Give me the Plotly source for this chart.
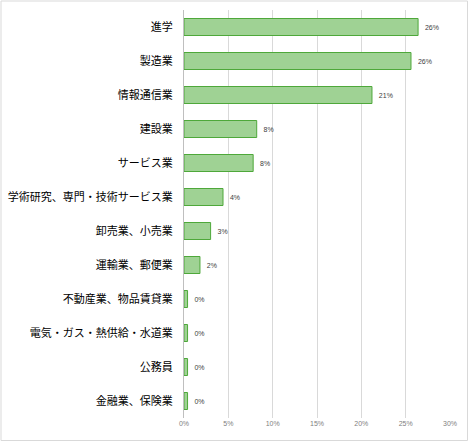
import plotly.graph_objects as go

categories = ["進学", "製造業", "情報通信業", "建設業", "サービス業", "学術研究、専門・技術サービス業",
              "卸売業、小売業", "運輸業、郵便業", "不動産業、物品賃貸業", "電気・ガス・熱供給・水道業",
              "公務員", "金融業、保険業"]
values = [26.4, 25.6, 21.2, 8.2, 7.8, 4.4, 3.0, 1.8, 0.4, 0.4, 0.4, 0.4]
labels = ["26%", "26%", "21%", "8%", "8%", "4%", "3%", "2%", "0%", "0%", "0%", "0%"]
tick_vals = [0, 5, 10, 15, 20, 25, 30]
tick_text = ["0%", "5%", "10%", "15%", "20%", "25%", "30%"]

fig = go.Figure(go.Bar(
    y=categories, x=values, orientation="h",
    marker=dict(color="#9fd294", line=dict(color="#4ea83a", width=1)),
    text=["  " + t for t in labels], textposition="outside", cliponaxis=False,
    textfont=dict(size=7, color="#404040", family="Liberation Sans"),
    width=0.5,
))

fig.update_layout(
    width=469, height=442,
    margin=dict(l=184, r=19, t=10, b=24, autoexpand=False),
    paper_bgcolor="white", plot_bgcolor="white",
    showlegend=False,
    font=dict(family="Noto Sans CJK JP", color="#000000"),
    xaxis=dict(range=[0, 30], tickvals=tick_vals, ticktext=tick_text, automargin=False,
               showgrid=True, gridcolor="#d9d9d9", gridwidth=1, zeroline=False,
               tickfont=dict(size=7, color="#808080", family="Liberation Sans"),
               showline=False, ticks=""),
    yaxis=dict(autorange="reversed", automargin=False, tickfont=dict(size=11, color="#000000"),
               showline=True, linecolor="#bfbfbf", linewidth=1, ticks="",
               ticklabelstandoff=8),
    shapes=[dict(type="rect", xref="paper", yref="paper",
                 x0=-183/266, x1=1 + 17.5/266, y0=-22.5/408, y1=1 + 9/408,
                 line=dict(color="#d9d9d9", width=1), fillcolor="rgba(0,0,0,0)", layer="below")],
)

fig.write_html("out.html", config={"displayModeBar": False},
               post_script="document.body.style.margin='0';")
